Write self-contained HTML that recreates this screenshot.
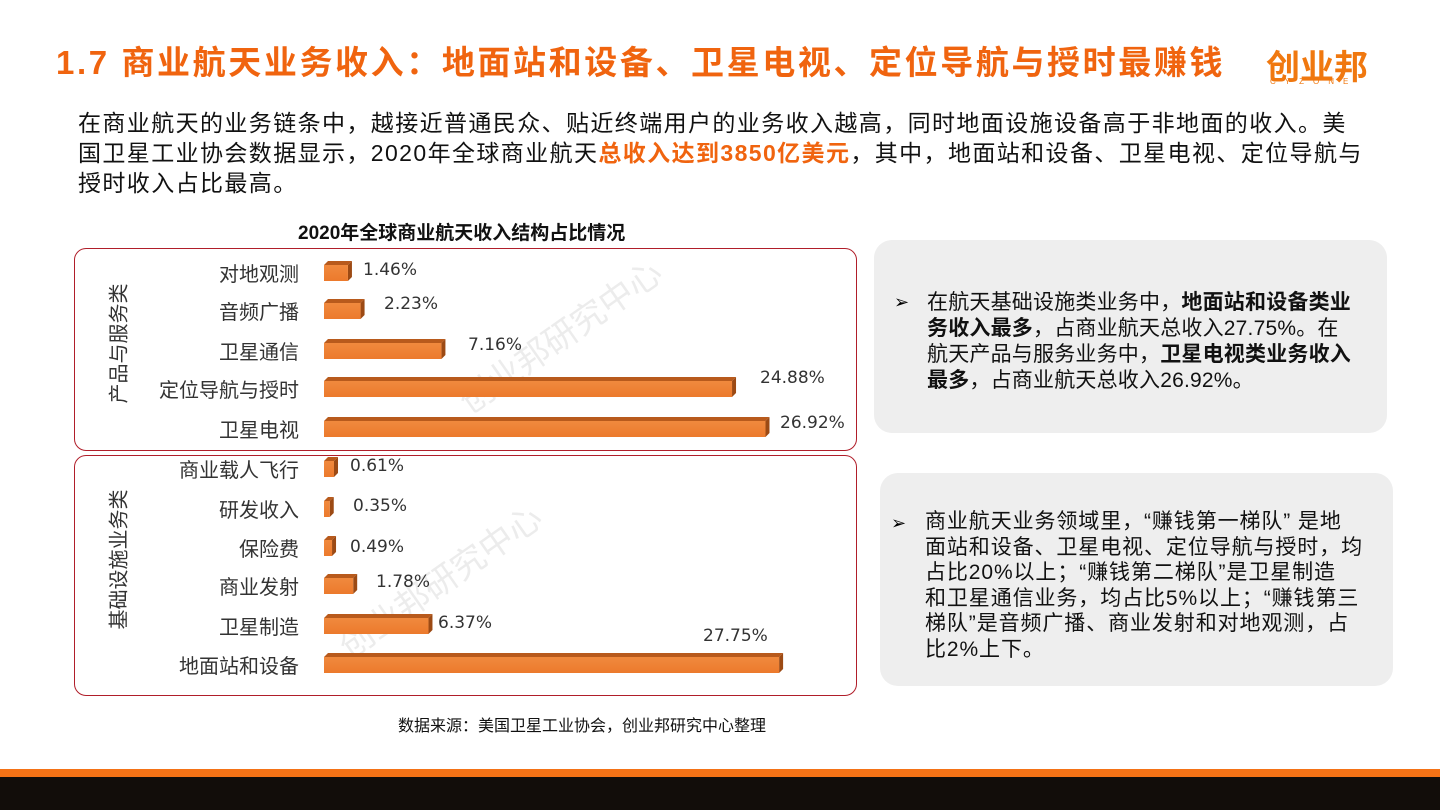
<!DOCTYPE html>
<html><head><meta charset="utf-8">
<style>
body{margin:0;width:1440px;height:810px;position:relative;background:#fff;font-family:"Liberation Sans","Noto Sans CJK SC",sans-serif;overflow:hidden}
.a{position:absolute;white-space:nowrap}
.title{left:56px;top:36px;font-size:33px;font-weight:bold;color:#F0640F;letter-spacing:2.6px}
.body{left:78px;top:108px;font-size:23px;line-height:30px;color:#111;letter-spacing:1.4px}
.box{position:absolute;border:1.5px solid #B01E2A;border-radius:12px}
.gray{position:absolute;background:#EEEEEE;border-radius:18px}
.lab{font-size:20px;color:#333;text-align:right;width:220px;left:79px}
.val{font-size:17px;color:#333;font-family:"DejaVu Sans",sans-serif}
.vt{font-size:20px;color:#333;transform:rotate(-90deg);transform-origin:center}
.ptxt{font-size:21px;line-height:26px;color:#111}
</style></head><body>
<div class="a title">1.7 商业航天业务收入：地面站和设备、卫星电视、定位导航与授时最赚钱</div>
<div class="a" style="left:1266px;top:40px;font-size:34px;font-weight:bold;color:#F0780F">创业邦</div>
<div class="a" style="left:1270px;top:77px;font-size:8px;letter-spacing:9px;color:#F0780F">CYZONE</div>
<div class="a body">在商业航天的业务链条中，越接近普通民众、贴近终端用户的业务收入越高，同时地面设施设备高于非地面的收入。美<br>国卫星工业协会数据显示，2020年全球商业航天<b style="color:#F0640F">总收入达到3850亿美元</b>，其中，地面站和设备、卫星电视、定位导航与<br>授时收入占比最高。</div>
<div class="a" style="left:298px;top:218px;font-size:19px;font-weight:bold;color:#111">2020年全球商业航天收入结构占比情况</div>
<div class="box" style="left:74px;top:248px;width:781px;height:201px"></div>
<div class="box" style="left:74px;top:455px;width:781px;height:239px"></div>
<div class="gray" style="left:874px;top:240px;width:513px;height:193px"></div>
<div class="gray" style="left:880px;top:473px;width:513px;height:213px"></div>
<div class="a" style="left:894px;top:292px;font-size:18px">➢</div>
<div class="a ptxt" style="left:927px;top:290px;letter-spacing:0.2px">在航天基础设施类业务中，<b>地面站和设备类业</b><br><b>务收入最多</b>，占商业航天总收入27.75%。在<br>航天产品与服务业务中，<b>卫星电视类业务收入</b><br><b>最多</b>，占商业航天总收入26.92%。</div>
<div class="a" style="left:891px;top:513px;font-size:18px">➢</div>
<div class="a ptxt" style="left:925px;top:509px;line-height:25.5px;letter-spacing:0.9px">商业航天业务领域里，“赚钱第一梯队” 是地<br>面站和设备、卫星电视、定位导航与授时，均<br>占比20%以上；“赚钱第二梯队”是卫星制造<br>和卫星通信业务，均占比5%以上；“赚钱第三<br>梯队”是音频广播、商业发射和对地观测，占<br>比2%上下。</div>
<div class="a vt" style="left:67px;top:339px;width:100px;text-align:center">产品与服务类</div>
<div class="a vt" style="left:57px;top:555px;width:120px;text-align:center">基础设施业务类</div>
<div class="a" style="left:440px;top:310px;font-size:34px;color:rgba(180,180,180,0.25);transform:rotate(-35deg)">创业邦研究中心</div>
<div class="a" style="left:320px;top:555px;font-size:34px;color:rgba(180,180,180,0.25);transform:rotate(-35deg)">创业邦研究中心</div>
<svg class="a" style="left:0;top:0" width="1440" height="810">
<defs><linearGradient id="g" x1="0" y1="0" x2="0" y2="1"><stop offset="0" stop-color="#F08A3E"/><stop offset="1" stop-color="#EC7A2C"/></linearGradient></defs>
<g id="bars"></g>
</svg>
<div id="labs"></div>
<div class="a" style="left:398px;top:712px;font-size:16px;color:#111">数据来源：美国卫星工业协会，创业邦研究中心整理</div>
<div class="a" style="left:0;top:769px;width:1440px;height:8px;background:#F47216"></div>
<div class="a" style="left:0;top:777px;width:1440px;height:33px;background:#120D0A"></div>
<script>
var d=[["对地观测",1.46,262,271,363],["音频广播",2.23,300,305,384],["卫星通信",7.16,340,346,468],["定位导航与授时",24.88,378,379,760],["卫星电视",26.92,418,424,780],
["商业载人飞行",0.61,458,467,350],["研发收入",0.35,498,507,353],["保险费",0.49,537,548,350],["商业发射",1.78,575,583,376],["卫星制造",6.37,615,624,438],["地面站和设备",27.75,654,637,703]];
var g=document.getElementById('bars'),h='',L='';
d.forEach(function(r){var w=Math.max(5,r[1]*16.4),y=r[2]+3,x=324,dp=4;
h+='<polygon points="'+x+','+y+' '+(x+dp)+','+(y-dp)+' '+(x+w+dp)+','+(y-dp)+' '+(x+w)+','+y+'" fill="#B85A1C"/>';
h+='<polygon points="'+(x+w)+','+y+' '+(x+w+dp)+','+(y-dp)+' '+(x+w+dp)+','+(y+16-dp)+' '+(x+w)+','+(y+16)+'" fill="#9C4A14"/>';
h+='<rect x="'+x+'" y="'+y+'" width="'+w+'" height="16" fill="url(#g)"/>';
var ly=(r[2]+9);
L+='<div class="a lab" style="top:'+(ly-13)+'px">'+r[0]+'</div>';
L+='<div class="a val" style="left:'+r[4]+'px;top:'+(r[3]-11)+'px">'+r[1].toFixed(2)+'%</div>';});
g.innerHTML=h;document.getElementById('labs').innerHTML=L;
</script>
</body></html>
